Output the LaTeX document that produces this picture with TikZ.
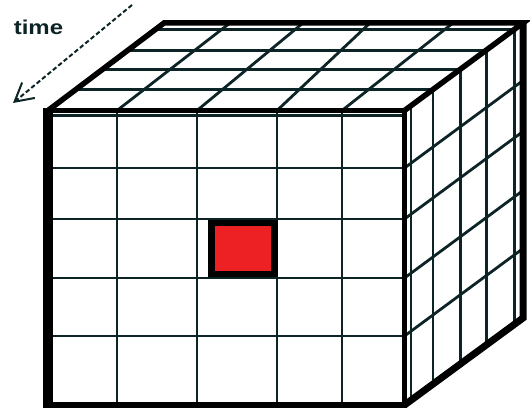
\documentclass[tikz,border=0pt]{standalone}
\usepackage{fontspec}
\setmainfont{Liberation Sans}
\usepackage{graphicx}
\usetikzlibrary{arrows.meta,calc}
\definecolor{ink}{RGB}{12,36,38}
\definecolor{cellred}{RGB}{237,32,36}

\begin{document}
\begin{tikzpicture}[
 x=1pt,y=-1pt,
 gridline/.style={draw=ink,line width=2.8pt},
 rim/.style={draw=black,line width=5.5pt,line join=miter},
 timeflow/.style={draw=ink,line width=2pt,dash pattern=on 4.5pt off 2.5pt,-{Straight Barb[length=18pt,width=20pt,line width=2pt]}},
 timelabel/.style={font=\fontsize{20}{24}\selectfont\bfseries,text=ink,inner sep=0pt}]
\useasboundingbox (0,0) rectangle (530,409);
\coordinate (ftl) at (48,110.5);
\coordinate (ftr) at (404.5,110.5);
\coordinate (fbr) at (404.5,405);
\coordinate (btl) at (164,23);
\coordinate (btr) at (523,23);
\coordinate (bbr) at (523,318);
\foreach \x in {117,197,277,342}
  \draw[gridline] (\x,110.5) -- (\x,405);
\foreach \y in {168,219,278,336}
  \draw[gridline] (48,\y) -- (404.5,\y);
\draw[gridline] (53,115.5) -- (402,115.5);
\foreach \t in {0.24,0.47,0.69,0.93}
  \draw[gridline] ($(ftl)!\t!(btl)$) -- ($(ftr)!\t!(btr)$);
\foreach \t in {0.055,0.24,0.47,0.69,0.93}
  \draw[gridline] ($(ftr)!\t!(btr)$) -- ($(fbr)!\t!(bbr)$);
\foreach \a/\b in {117/230,197/303,277/370,342/453}
  \draw[gridline] (\a,110.5) -- (\b,23);
\foreach \y in {168,219,278,336}
  \draw[gridline] (404.5,\y) -- ++(118.5,-87.5);
\draw[rim] (ftl) rectangle (fbr);
\draw[rim,line width=10pt] (48,107.75) -- (48,407.75);
\draw[rim] (ftl) -- (btl) -- (btr) -- (ftr);
\draw[rim,line width=7pt] (btr) -- (bbr) -- (fbr);
\draw[draw=black,line width=6.5pt,fill=cellred] (211.5,223) rectangle (274.5,274);
\node[timelabel,anchor=base] (time) at (38.5,35) {\scalebox{1.2}[1]{time}};
\coordinate (tail) at (132,5);
\coordinate (tip) at (13,103);
\draw[timeflow] (tail) -- (tip);
\end{tikzpicture}
\end{document}
